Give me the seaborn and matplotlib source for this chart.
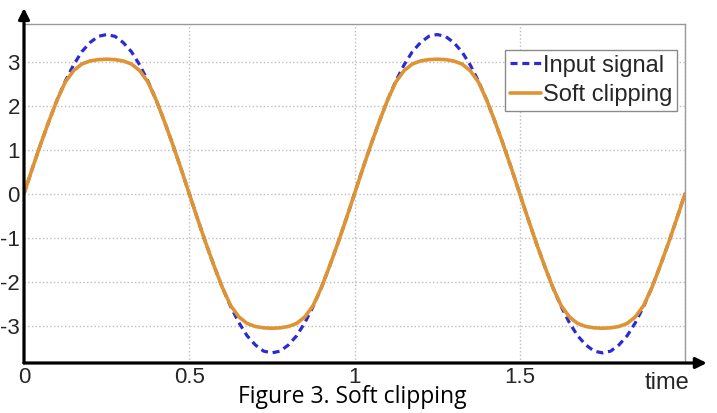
import matplotlib
matplotlib.use("Agg")
import matplotlib.pyplot as plt
import seaborn as sns
import pandas as pd

# ---- data (sample step 0.025 in time) ----
time = [0.0, 0.025, 0.05, 0.075, 0.1, 0.125, 0.15, 0.175, 0.2, 0.225,
        0.25, 0.275, 0.3, 0.325, 0.35, 0.375, 0.4, 0.425, 0.45, 0.475,
        0.5, 0.525, 0.55, 0.575, 0.6, 0.625, 0.65, 0.675, 0.7, 0.725,
        0.75, 0.775, 0.8, 0.825, 0.85, 0.875, 0.9, 0.925, 0.95, 0.975,
        1.0, 1.025, 1.05, 1.075, 1.1, 1.125, 1.15, 1.175, 1.2, 1.225,
        1.25, 1.275, 1.3, 1.325, 1.35, 1.375, 1.4, 1.425, 1.45, 1.475,
        1.5, 1.525, 1.55, 1.575, 1.6, 1.625, 1.65, 1.675, 1.7, 1.725,
        1.75, 1.775, 1.8, 1.825, 1.85, 1.875, 1.9, 1.925, 1.95, 1.975,
        2.0]

input_signal = [0.0, 0.57, 1.12, 1.64, 2.13, 2.56, 2.93, 3.23, 3.44, 3.58,
                3.62, 3.58, 3.44, 3.23, 2.93, 2.56, 2.13, 1.64, 1.12, 0.57,
                0.0, -0.57, -1.12, -1.64, -2.13, -2.56, -2.93, -3.23, -3.44, -3.58,
                -3.62, -3.58, -3.44, -3.23, -2.93, -2.56, -2.13, -1.64, -1.12, -0.57,
                0.0, 0.57, 1.12, 1.64, 2.13, 2.56, 2.93, 3.23, 3.44, 3.58,
                3.62, 3.58, 3.44, 3.23, 2.93, 2.56, 2.13, 1.64, 1.12, 0.57,
                0.0, -0.57, -1.12, -1.64, -2.13, -2.56, -2.93, -3.23, -3.44, -3.58,
                -3.62, -3.58, -3.44, -3.23, -2.93, -2.56, -2.13, -1.64, -1.12, -0.57,
                0.0]

soft_clipping = [0.0, 0.57, 1.12, 1.64, 2.13, 2.54, 2.80, 2.95, 3.02, 3.05,
                 3.06, 3.05, 3.02, 2.95, 2.80, 2.54, 2.13, 1.64, 1.12, 0.57,
                 0.0, -0.57, -1.12, -1.64, -2.13, -2.54, -2.80, -2.95, -3.02, -3.05,
                 -3.06, -3.05, -3.02, -2.95, -2.80, -2.54, -2.13, -1.64, -1.12, -0.57,
                 0.0, 0.57, 1.12, 1.64, 2.13, 2.54, 2.80, 2.95, 3.02, 3.05,
                 3.06, 3.05, 3.02, 2.95, 2.80, 2.54, 2.13, 1.64, 1.12, 0.57,
                 0.0, -0.57, -1.12, -1.64, -2.13, -2.54, -2.80, -2.95, -3.02, -3.05,
                 -3.06, -3.05, -3.02, -2.95, -2.80, -2.54, -2.13, -1.64, -1.12, -0.57,
                 0.0]

xtick_values = [0, 0.5, 1, 1.5, 2]
xtick_labels = ["0", "0.5", "1", "1.5", ""]
ytick_values = [-3, -2, -1, 0, 1, 2, 3]
ytick_labels = ["-3", "-2", "-1", "0", "1", "2", "3"]

sns.set_style("white")
plt.rcParams['font.family'] = ['Liberation Sans', 'DejaVu Sans']

W, H = 717, 413
fig = plt.figure(figsize=(W / 100, H / 100), dpi=100)
ax = fig.add_axes([24 / W, 1 - 363 / H, (685 - 24) / W, (363 - 24) / H])

df = pd.DataFrame({"time": time, "Input signal": input_signal,
                   "Soft clipping": soft_clipping})

sns.lineplot(data=df, x="time", y="Input signal", ax=ax, color="#2b2bd6",
             lw=2.3, linestyle=(0, (2.2, 1.5)), label="Input signal")
sns.lineplot(data=df, x="time", y="Soft clipping", ax=ax, color="#de9433",
             lw=2.6, label="Soft clipping")

ax.set_xlim(0, 2)
ax.set_ylim(-3.85, 3.86)
ax.set_xticks(xtick_values, xtick_labels)
ax.set_yticks(ytick_values, ytick_labels)
ax.tick_params(axis='both', length=0, labelsize=16)
ax.tick_params(axis='x', pad=3)
ax.tick_params(axis='y', pad=3)
ax.set_xlabel("")
ax.set_ylabel("")
ax.grid(True, linestyle=':', color='#bdbdbd', lw=1.0)

for s in ['top', 'right']:
    ax.spines[s].set_color('#9a9a9a')
    ax.spines[s].set_linewidth(1.0)
for s in ['left', 'bottom']:
    ax.spines[s].set_visible(False)

arrow_kw = dict(arrowstyle='-|>', lw=2.3, color='black', mutation_scale=16,
                shrinkA=0, shrinkB=0)
ax.annotate("", xy=(0, 1.047), xytext=(0, 0), xycoords='axes fraction',
            textcoords='axes fraction', arrowprops=arrow_kw, annotation_clip=False)
ax.annotate("", xy=(1.033, 0), xytext=(0, 0), xycoords='axes fraction',
            textcoords='axes fraction', arrowprops=arrow_kw, annotation_clip=False)

leg = ax.legend(loc='upper right', bbox_to_anchor=(677 / W, 1 - 50 / H),
                bbox_transform=fig.transFigure, borderaxespad=0,
                fontsize=17, frameon=True, fancybox=False, framealpha=1,
                edgecolor='#8a8a8a', borderpad=0.2, labelspacing=0.3,
                handlelength=1.3, handletextpad=0.1)
leg.get_frame().set_linewidth(1.0)

fig.text(689 / W, 1 - 383 / H, "time", ha='right', va='center', fontsize=17)
fig.text(352 / W, 1 - 403 / H, "Figure 3. Soft clipping", ha='center',
         va='baseline', fontsize=16.5, color='black',
         family=['Open Sans', 'DejaVu Sans'])

fig.savefig("out.png", dpi=100)
